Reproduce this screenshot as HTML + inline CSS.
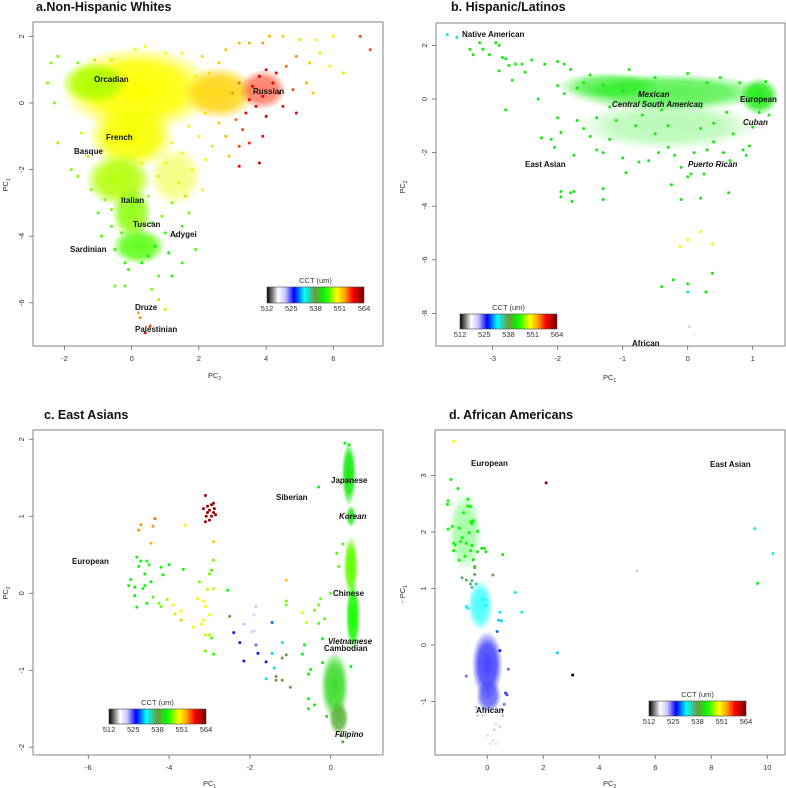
<!DOCTYPE html>
<html><head><meta charset="utf-8"><style>
html,body{margin:0;padding:0;background:#fff;}
svg{display:block;font-family:"Liberation Sans",sans-serif;}
.lbl{font-size:8px;font-weight:bold;fill:#111;}
.it{font-style:italic;}
.ttl{font-size:12.5px;font-weight:bold;fill:#111;}
.ax{font-size:7.5px;fill:#333;}
</style></head><body>
<svg id="chart" width="786" height="788" viewBox="0 0 786 788">
<defs id="defs">
<linearGradient id="cct" x1="0" x2="1" y1="0" y2="0">
<stop offset="0" stop-color="#000"/><stop offset="0.115" stop-color="#fff"/><stop offset="0.19" stop-color="#c4c4ff"/>
<stop offset="0.278" stop-color="#0000ff"/><stop offset="0.385" stop-color="#00ffff"/><stop offset="0.5" stop-color="#6a9a3a"/>
<stop offset="0.596" stop-color="#00ff00"/><stop offset="0.72" stop-color="#ffff00"/><stop offset="0.8" stop-color="#ffa500"/>
<stop offset="0.885" stop-color="#ff0000"/><stop offset="1" stop-color="#700000"/>
</linearGradient>
</defs>
<g id="marks"></g>
<g id="axes"></g>
<text class="ttl" x="36" y="11">a.Non-Hispanic Whites</text>
<text class="ttl" x="451" y="11">b. Hispanic/Latinos</text>
<text class="ttl" x="44" y="419">c. East Asians</text>
<text class="ttl" x="449" y="419">d. African Americans</text>
<g>
<text class="lbl" x="94" y="82">Orcadian</text><text class="lbl" x="106" y="140">French</text>
<text class="lbl" x="74" y="154">Basque</text><text class="lbl" x="253" y="94">Russian</text>
<text class="lbl" x="121" y="203">Italian</text><text class="lbl" x="133" y="227">Tuscan</text>
<text class="lbl" x="170" y="237">Adygei</text><text class="lbl" x="70" y="252">Sardinian</text>
<text class="lbl" x="135" y="310">Druze</text><text class="lbl" x="135" y="332">Palestinian</text>
</g>
<g>
<text class="lbl" x="462" y="37">Native American</text><text class="lbl it" x="638" y="97">Mexican</text>
<text class="lbl it" x="612" y="107">Central South American</text><text class="lbl" x="740" y="102">European</text>
<text class="lbl it" x="743" y="125">Cuban</text><text class="lbl" x="525" y="167">East Asian</text>
<text class="lbl it" x="688" y="167">Puerto Rican</text><text class="lbl" x="632" y="346">African</text>
</g>
<g>
<text class="lbl" x="72" y="564">European</text><text class="lbl" x="276" y="500">Siberian</text>
<text class="lbl" x="331" y="483">Japanese</text><text class="lbl it" x="339" y="519">Korean</text>
<text class="lbl" x="333" y="596">Chinese</text><text class="lbl it" x="328" y="644">Vietnamese</text>
<text class="lbl" x="324" y="651">Cambodian</text><text class="lbl it" x="335" y="737">Filipino</text>
</g>
<g>
<text class="lbl" x="471" y="466">European</text><text class="lbl" x="710" y="467">East Asian</text>
<text class="lbl" x="476" y="713">African</text>
</g>
</svg>
<script>
// ---------- data ----------
const ticksA_x=[-2,0,2,4,6], ticksA_y=[-6,-4,-2,0,2];
const ticksB_x=[-3,-2,-1,0,1], ticksB_y=[-8,-6,-4,-2,0,2];
const ticksC_x=[-6,-4,-2,0], ticksC_y=[-2,-1,0,1,2];
const ticksD_x=[0,2,4,6,8,10], ticksD_y=[-1,0,1,2,3];
const cbarTicks=[512,525,538,551,564];
// density clouds [x,y,rx,ry,cct,peakOpacity]
const cloudsA=[[0.2,0.4,2.3,1.3,549.5,1],[-1.1,0.6,1.0,0.65,547.5,1],[0,-1.0,1.3,1.0,549.3,1],[-0.4,-2.3,1.0,0.8,547.5,0.95],[0.0,-3.3,0.6,0.8,546.5,0.9],[0.2,-4.3,0.8,0.55,545,0.9],[2.6,0.3,1.1,0.8,551.5,0.9],[3.9,0.4,0.7,0.6,557,0.6],[1.3,-2.2,0.8,0.9,549,0.5]];
const cloudsB=[[-0.3,0.25,1.6,0.7,542,0.7],[1.1,0.1,0.3,0.7,542,0.9],[-1.2,0.5,0.8,0.5,542,0.6],[-0.3,-1.0,1.4,0.9,542,0.3]];
const cloudsC=[[0.45,1.55,0.18,0.42,542,1],[0.5,1.0,0.12,0.14,542,0.9],[0.5,0.35,0.18,0.4,545.5,1],[0.55,-0.3,0.18,0.45,543.5,1],[0.1,-1.2,0.35,0.45,541,0.9],[0.2,-1.62,0.25,0.22,539,0.9]];
const cloudsD=[[-0.25,0.7,0.45,0.45,532,0.7],[0.0,-0.35,0.55,0.6,526,0.8],[0.05,-0.9,0.45,0.3,525,0.8],[-0.8,2.0,0.6,0.7,543,0.35]];
const pointsA=[[3.5,1.8,553],[3.9,1.8,554],[4.1,2.0,553],[4.5,2.0,552],[5.0,1.9,551],[5.5,1.9,550],[6.0,2.0,550],[6.8,2.0,556],[7.1,1.6,556],[6.3,0.9,548],[5.9,1.1,550],[5.6,1.5,551],[5.3,1.2,552],[4.9,1.4,554],[4.6,1.1,555],[4.3,0.9,558],[4.0,1.0,558],[3.8,0.8,559],[3.6,0.5,559],[4.2,0.6,559],[4.4,0.3,559],[3.9,0.2,559],[3.7,-0.1,559],[3.5,0.1,558],[3.4,-0.3,558],[4.0,-0.4,559],[4.5,-0.1,558],[4.9,-0.3,559],[4.8,0.4,556],[5.2,0.6,553],[5.4,0.3,552],[3.2,0.6,555],[3.0,0.3,554],[3.1,-0.5,555],[3.3,-0.8,556],[3.5,-1.2,557],[3.2,-1.3,556],[3.2,-1.9,558],[3.9,-1.0,558],[3.8,-1.8,560],[2.8,-1.0,553],[2.6,-0.6,552],[2.9,-1.6,552],[2.4,-1.3,551],[2.2,-1.7,550],[1.8,-2.0,549],[2.1,-2.6,549],[1.5,-1.5,549],[1.4,-2.4,548],[1.6,-2.8,547],[1.7,-3.3,546],[1.5,-3.7,545],[1.9,-4.4,545],[1.3,-4.0,544],[1.5,-4.8,544],[1.2,-5.2,544],[0.8,-5.2,545],[0.6,-5.6,546],[0.8,-5.9,547],[1.0,-6.2,548],[0.2,-6.3,553],[0.25,-6.45,554],[0.55,-6.7,556],[0.4,-6.9,558],[-0.5,-5.5,546],[-0.2,-5.5,545],[0.3,-4.8,543],[0.5,-4.6,543],[-0.2,-4.8,544],[-0.5,-4.4,544],[-0.6,-3.7,545],[-1.0,-3.3,545],[-0.3,-3.9,545],[1.0,-3.9,544],[1.1,-4.5,543],[-1.8,-2.0,546],[-1.6,-2.2,546],[-2.2,-1.2,547],[-1.5,-0.9,548],[-2.4,1.2,546],[-2.5,0.6,546],[-2.3,0.0,546],[-2.2,1.4,546],[-1.6,1.2,546],[-1.1,1.3,547],[-0.6,1.3,548],[0.1,1.6,549],[0.4,1.7,549],[1.0,1.5,550],[1.5,1.5,550],[2.1,1.4,551],[2.8,1.6,552],[3.2,1.8,552],[2.6,1.2,552],[1.7,-0.7,550],[1.2,-1.2,549],[0.8,-2.2,548],[0.5,-2.8,547],[1.2,-3.0,546],[0.9,-3.4,546],[-0.8,-2.9,546],[-1.2,-2.6,546],[0.3,-1.8,549],[2.2,-0.3,551],[1.9,0.8,550],[2.3,0.9,551],[2.0,-1.0,550],[1.0,-1.8,549],[-1.3,-1.6,547],[-0.6,-3.2,546],[0.6,-3.6,545],[-0.1,-5.0,544],[0.7,-4.3,543],[-0.9,-4.0,545]];
const pointsB=[[-3.7,2.4,533],[-3.55,2.3,533],[-3.2,2.1,542],[-2.95,2.1,542],[-2.9,2.0,542],[-3.35,1.85,542],[-3.3,1.65,542],[-3.15,1.85,542],[-3.05,1.65,542],[-2.85,1.55,542],[-2.8,1.5,542],[-2.75,1.25,542],[-2.65,1.3,542],[-2.55,1.3,542],[-2.4,1.45,542],[-2.9,1.05,542],[-2.5,1.0,542],[-2.7,0.7,542],[-2.8,-0.4,542],[-2.3,0.0,542],[-2.2,1.3,542],[-2.0,1.4,542],[-1.9,1.3,542],[-2.0,-0.7,542],[-2.1,-1.5,542],[-2.25,-1.45,542],[-2.05,-1.8,542],[-1.95,-1.25,542],[-1.75,-2.1,542],[-1.6,-1.1,542],[-1.5,-1.4,542],[-1.4,-1.9,542],[-1.3,-2.0,542],[-1.2,-1.5,542],[-1.0,-2.2,542],[-0.95,-2.75,542],[-0.75,-2.35,542],[-0.6,-2.3,542],[-0.45,-2.0,542],[-0.3,-1.8,542],[-0.2,-2.1,542],[-0.1,-2.55,542],[0.0,-2.9,542],[0.05,-2.8,542],[0.1,-2.0,542],[0.25,-2.8,542],[0.3,-1.9,542],[0.55,-2.0,542],[0.65,-2.3,542],[0.85,-1.9,542],[0.9,-2.1,542],[0.95,-1.75,542],[1.0,-1.05,542],[0.7,-1.3,542],[0.4,-1.6,542],[0.2,-1.1,542],[-0.3,-1.0,542],[-0.5,-1.3,542],[-0.8,-1.0,542],[-1.1,-0.8,542],[-1.7,-0.8,542],[-1.4,-0.7,542],[-0.25,-3.2,542],[-0.1,-3.75,542],[0.2,-3.7,542],[0.63,-3.5,542],[-1.95,-3.45,542],[-1.95,-3.65,542],[-1.8,-3.5,542],[-1.75,-3.45,542],[-1.78,-3.82,542],[-1.3,-3.35,542],[-1.3,-3.75,542],[0.2,-4.95,549],[0.0,-5.25,549],[-0.12,-5.5,549],[0.38,-5.4,549],[0.38,-6.5,542],[-0.22,-6.75,542],[-0.4,-7.0,542],[0.0,-6.9,542],[0.28,-7.2,542],[0.0,-7.2,533],[0.03,-8.5,521],[-0.1,-8.75,518],[0.1,-8.8,519],[-1.6,0.6,542],[-1.3,0.5,542],[-1.0,0.3,542],[-0.9,1.1,542],[-0.5,0.8,542],[0.0,0.95,542],[0.3,0.6,542],[0.5,0.8,542],[0.8,0.6,542],[1.2,0.65,542],[1.25,-0.6,542],[1.1,-0.5,542],[0.6,-0.5,542],[0.2,-0.3,542],[-0.4,-0.4,542],[-1.5,0.9,542],[-1.8,1.1,542],[-1.7,0.4,542],[-2.0,0.5,542],[-1.9,0.2,542],[-0.7,-0.6,542],[0.4,-0.9,542],[-1.2,-0.3,542]];
const pointsC=[[-3.1,1.27,562],[-3.15,1.1,562],[-3.05,1.05,562],[-2.95,1.15,562],[-2.9,1.05,562],[-2.85,1.02,562],[-3.0,0.95,562],[-3.1,0.93,562],[-2.95,1.0,562],[-3.05,1.13,562],[-2.9,1.17,562],[-3.0,1.08,562],[-2.88,1.1,562],[-3.08,1.0,562],[-4.75,0.82,554],[-4.7,0.89,554],[-4.35,0.97,555],[-4.4,0.87,554],[-4.45,0.65,553],[-3.6,0.88,550],[-2.9,0.67,552],[-1.1,0.17,552],[-4.8,0.47,543],[-4.75,0.35,543],[-4.7,0.42,543],[-4.55,0.42,543],[-4.5,0.37,544],[-4.6,0.25,543],[-4.2,0.34,543],[-4.15,0.24,543],[-4.0,0.37,543],[-3.65,0.31,543],[-5.0,0.1,543],[-4.95,0.18,543],[-4.85,0.08,543],[-4.65,0.06,543],[-4.6,0.1,543],[-4.45,0.15,543],[-4.4,-0.05,545],[-4.8,-0.18,543],[-4.85,-0.03,543],[-4.55,-0.13,543],[-4.25,-0.13,546],[-4.2,-0.17,546],[-4.05,-0.08,547],[-3.9,-0.15,549],[-3.85,-0.27,551],[-3.7,-0.35,552],[-3.7,-0.23,550],[-3.4,-0.44,550],[-3.3,-0.07,549],[-3.25,0.15,546],[-3.15,-0.1,549],[-3.1,-0.17,549],[-3.05,0.05,548],[-3.0,0.25,546],[-2.95,0.3,545],[-2.9,0.43,546],[-2.9,0.06,548],[-3.15,-0.35,549],[-3.2,-0.4,549],[-3.1,-0.54,548],[-3.0,-0.54,547],[-2.95,-0.58,545],[-3.1,-0.75,546],[-2.9,-0.79,544],[-3.0,-0.28,549],[-2.55,0.04,543],[-2.5,-0.3,539],[-2.4,-0.51,526],[-2.25,-0.64,526],[-2.15,-0.4,522],[-2.15,-0.88,526],[-1.95,-0.5,521],[-1.9,-0.49,521],[-1.9,-0.28,521],[-1.85,-0.17,522],[-1.85,-0.67,524],[-1.8,-0.78,526],[-1.6,-0.89,527],[-1.45,-0.38,529],[-1.45,-0.78,531],[-1.4,-0.97,533],[-1.6,-1.11,533],[-1.2,-0.64,533],[-1.35,-1.08,538],[-1.35,-1.13,538],[-1.2,-1.13,538],[-1.2,-0.84,538],[-1.1,-0.8,538],[-1.0,-1.22,538],[-1.1,-0.1,546],[-1.1,-0.15,546],[-0.7,-0.25,549],[-0.6,-0.38,548],[-0.4,-0.22,546],[-0.3,-0.15,546],[-0.25,-0.07,546],[-0.3,-0.39,545],[-0.15,-0.33,545],[-0.2,-0.59,543],[-0.7,-0.79,543],[-0.65,-0.67,543],[-0.5,-0.99,543],[-0.55,-1.05,543],[-0.55,-1.37,543],[-0.55,-1.5,543],[-0.4,-1.45,543],[-0.3,1.38,543],[0.15,0.52,545],[0.2,0.35,545],[0.3,0.64,545],[0.0,0.0,545],[0.35,1.95,543],[0.45,1.93,543],[0.3,-1.93,539],[0.25,-1.85,539],[-0.2,-0.9,542],[-0.1,-1.6,541],[0.5,-0.95,543]];
const pointsD=[[-1.2,3.6,550],[-1.3,2.93,543],[-1.05,2.77,543],[-1.4,2.55,543],[-1.42,2.49,543],[-0.7,2.58,543],[-0.7,2.46,543],[-0.6,2.45,543],[-0.85,2.34,543],[-0.6,2.18,543],[-0.5,2.2,543],[-0.55,2.15,543],[-1.4,2.05,543],[-1.25,2.1,543],[-1.0,2.07,543],[-0.65,1.99,543],[-0.35,2.01,543],[-0.9,1.9,543],[-0.95,1.83,543],[-1.2,1.8,543],[-1.15,1.77,543],[-0.75,1.8,543],[-0.55,1.76,543],[-0.6,1.67,543],[-1.2,1.67,543],[-0.2,1.71,542],[-0.1,1.71,542],[-0.05,1.65,542],[-0.35,1.65,542],[0.55,1.6,542],[-0.8,1.57,543],[-0.5,1.51,542],[-1.0,1.5,543],[-0.45,1.39,540],[-0.45,1.37,540],[-0.45,1.25,538],[0.2,1.24,537],[-0.9,1.19,537],[-0.75,1.15,537],[-0.55,1.14,536],[-0.6,1.08,536],[-0.4,1.08,535],[-0.55,1.02,535],[1.0,0.93,533],[1.23,0.58,533],[0.45,0.58,532],[0.5,0.43,531],[0.4,0.44,531],[0.35,0.24,529],[-0.7,0.65,532],[-0.75,0.68,532],[-0.15,0.8,532],[-0.05,0.7,532],[0.45,-0.1,526],[0.75,-0.43,524],[0.7,-0.88,525],[0.65,-0.85,525],[0.6,-1.05,524],[0.55,-1.15,524],[0.55,-1.25,522],[-0.75,-0.55,524],[0.45,-1.45,521],[0.3,-1.4,520],[0.25,-1.5,521],[0.0,-1.6,520],[0.2,-1.7,520],[0.1,-1.75,520],[0.3,-1.75,520],[-0.1,-1.65,519],[-0.15,-1.25,521],[-0.4,-1.1,522],[-0.35,-1.25,521],[2.1,2.87,563],[3.05,-0.53,512],[2.5,-0.14,531],[5.35,1.31,517],[9.55,2.06,533],[10.2,1.62,533],[9.65,1.09,543]];

// ---------- geometry ----------
const panels=[
 {id:'a',frame:[33,22,383,346],x0:131.7,sx:33.6,y0:103,sy:33.3,tx:ticksA_x,ty:ticksA_y,clouds:cloudsA,pts:pointsA,cbar:[267,287,97,16],xl:'PC',xs:'2',yl:'PC',ys:'1',xlp:[208,378],ylp:[8,185]},
 {id:'b',frame:[436,23,785,346],x0:687.7,sx:65,y0:99,sy:26.8,tx:ticksB_x,ty:ticksB_y,clouds:cloudsB,pts:pointsB,cbar:[460,314,97,15],xl:'PC',xs:'1',yl:'PC',ys:'2',xlp:[603,380],ylp:[405,187]},
 {id:'c',frame:[33,430,383,755],x0:330.7,sx:40.4,y0:593.3,sy:77,tx:ticksC_x,ty:ticksC_y,clouds:cloudsC,pts:pointsC,cbar:[109,709,97,15],xl:'PC',xs:'1',yl:'PC',ys:'2',xlp:[203,786],ylp:[8,593]},
 {id:'d',frame:[435,430,785,755],x0:487.3,sx:28,y0:645,sy:56.5,tx:ticksD_x,ty:ticksD_y,clouds:cloudsD,pts:pointsD,cbar:[649,701,97,15],xl:'PC',xs:'2',yl:'- PC',ys:'1',xlp:[603,786],ylp:[405,594]}
];
const stops=[[512,[0,0,0]],[518,[255,255,255]],[522,[196,196,255]],[526.5,[0,0,255]],[532,[0,255,255]],[538,[106,154,58]],[543,[0,255,0]],[549.5,[255,255,0]],[553.5,[255,165,0]],[558,[255,0,0]],[564,[112,0,0]]];
function col(v){
  if(v<=stops[0][0])return 'rgb(0,0,0)';
  for(let i=1;i<stops.length;i++){if(v<=stops[i][0]){const a=stops[i-1],b=stops[i],t=(v-a[0])/(b[0]-a[0]);
    return 'rgb('+a[1].map((c,k)=>Math.round(c+(b[1][k]-c)*t)).join(',')+')';}}
  return 'rgb(112,0,0)';
}
const NS='http://www.w3.org/2000/svg';
const marks=document.getElementById('marks'), axes=document.getElementById('axes'), defs=document.getElementById('defs');
function mk(tag,attrs,parent){const e=document.createElementNS(NS,tag);for(const k in attrs)e.setAttribute(k,attrs[k]);parent.appendChild(e);return e;}
let gid=0;
panels.forEach(p=>{
  const X=v=>p.x0+v*p.sx, Y=v=>p.y0-v*p.sy;
  const [l,t,r,b]=p.frame;
  const g=mk('g',{},marks);
  
  
  p.clouds.forEach(c=>{
    const id='cg'+(gid++);
    const rg=mk('radialGradient',{id:id},defs);
    mk('stop',{offset:'0','stop-color':col(c[4]),'stop-opacity':c[5]},rg);
    mk('stop',{offset:'0.6','stop-color':col(c[4]),'stop-opacity':c[5]*0.85},rg);
    mk('stop',{offset:'1','stop-color':col(c[4]),'stop-opacity':0},rg);
    const e=mk('ellipse',{cx:X(c[0]),cy:Y(c[1]),rx:c[2]*p.sx,ry:c[3]*p.sy,fill:'url(#'+id+')'},g);
    
    
  });
  p.pts.forEach(d=>{
    const e=mk('circle',{cx:X(d[0]),cy:Y(d[1]),r:1.5,fill:col(d[2])},g);
    
    
  });
  const ag=mk('g',{},axes);
  
  
  mk('rect',{x:l,y:t,width:r-l,height:b-t,fill:'none',stroke:'#666','stroke-width':0.8},ag);
  p.tx.forEach(v=>{const x=X(v);mk('line',{x1:x,x2:x,y1:b,y2:b+4,stroke:'#666','stroke-width':0.8},ag);
    const tt=mk('text',{x:x,y:b+15,'text-anchor':'middle',class:'ax'},ag);tt.textContent=v;
    
    });
  p.ty.forEach(v=>{const y=Y(v);mk('line',{x1:l-4,x2:l,y1:y,y2:y,stroke:'#666','stroke-width':0.8},ag);
    const tt=mk('text',{x:0,y:0,'text-anchor':'middle',class:'ax',transform:'translate('+(l-9)+','+y+') rotate(-90)'},ag);tt.textContent=v;
    
    });
  const xt=mk('text',{x:p.xlp[0],y:p.xlp[1],class:'ax'},ag);xt.innerHTML=p.xl+'<tspan font-size="5" dy="2">'+p.xs+'</tspan>';
  
  
  const yt=mk('text',{x:0,y:0,'text-anchor':'middle',class:'ax',transform:'translate('+p.ylp[0]+','+p.ylp[1]+') rotate(-90)'},ag);yt.innerHTML=p.yl+'<tspan font-size="5" dy="2">'+p.ys+'</tspan>';
  
  
  const [cx,cy,cw,ch]=p.cbar;
  const cg=mk('g',{},ag);
  
  
  mk('rect',{x:cx,y:cy,width:cw,height:ch,fill:'url(#cct)',stroke:'#444','stroke-width':0.6},cg);
  const ct=mk('text',{x:cx+cw/2,y:cy-4,'text-anchor':'middle',class:'ax'},cg);ct.textContent='CCT (um)';
  cbarTicks.forEach((v,i)=>{const tx=cx+cw*(v-512)/52;
    const tt=mk('text',{x:tx,y:cy+ch+8,'text-anchor':'middle',class:'ax'},cg);tt.textContent=v;});
});
</script>
</body></html>
